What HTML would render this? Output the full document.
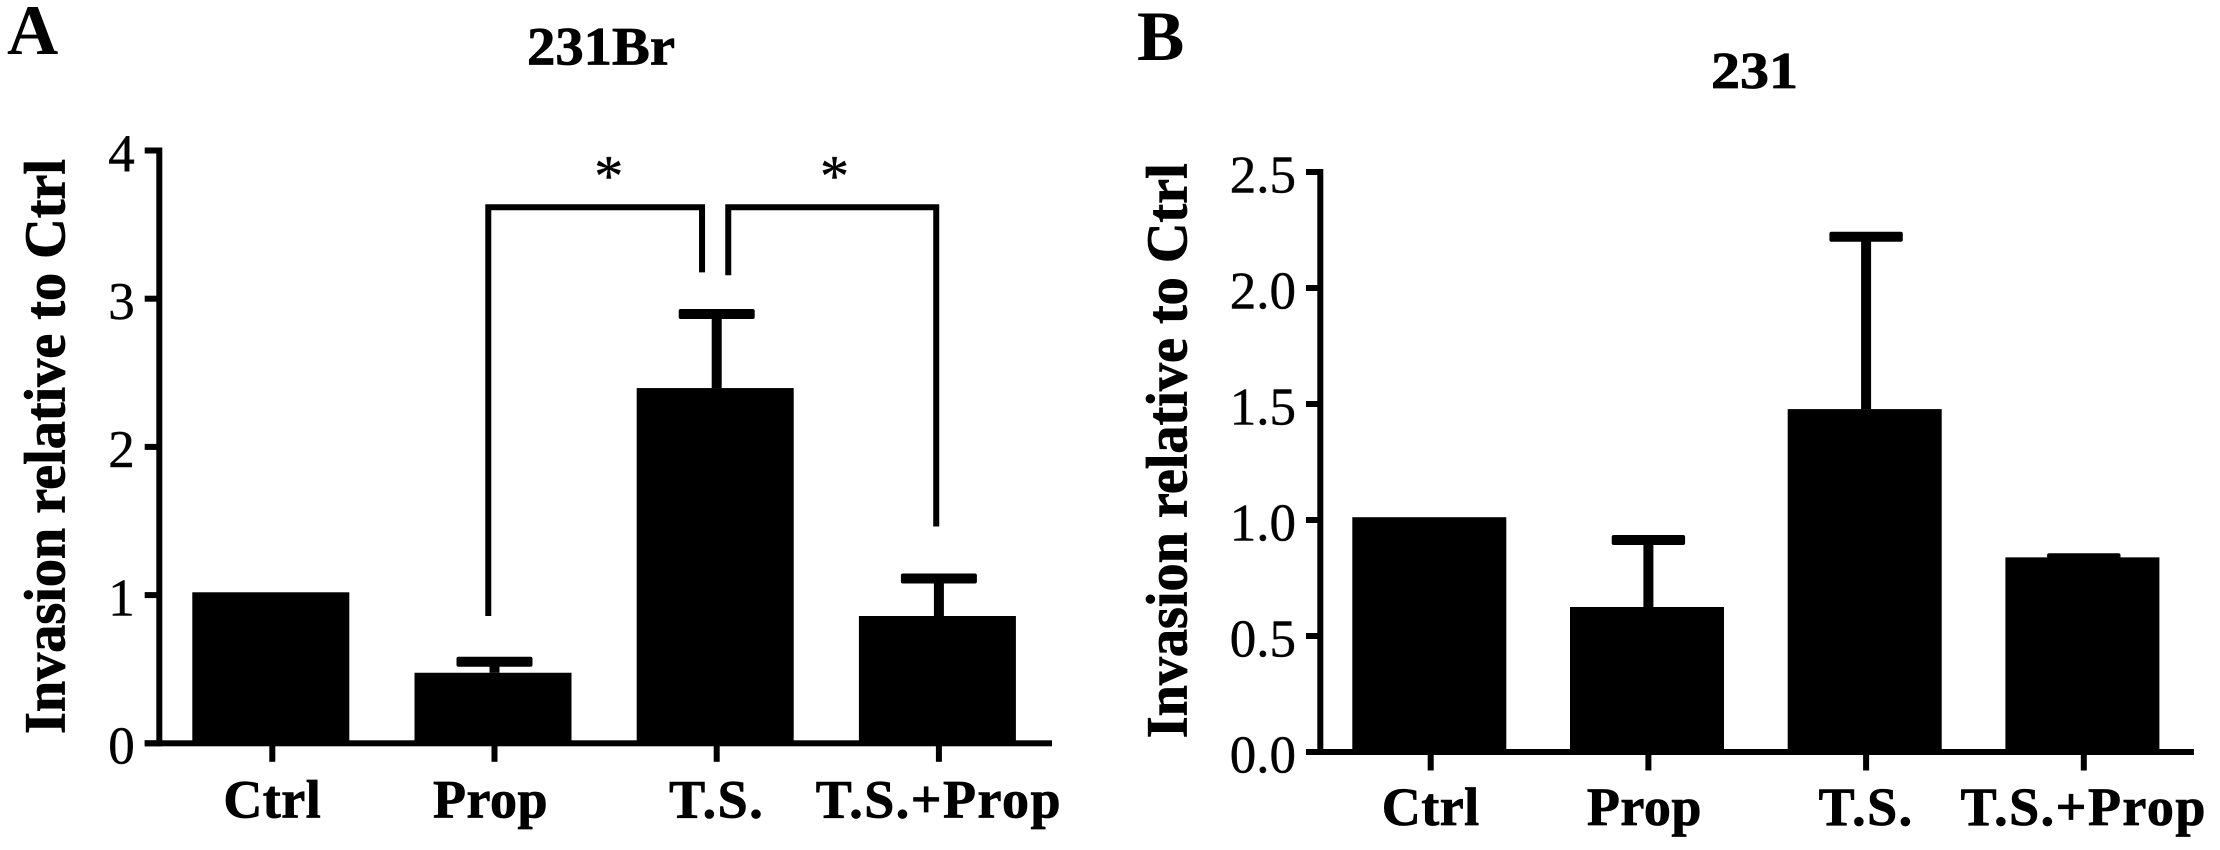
<!DOCTYPE html>
<html lang="en">
<head>
<meta charset="utf-8">
<title>Invasion relative to Ctrl: 231Br and 231</title>
<style>
  html, body { margin: 0; padding: 0; background: #ffffff; }
  body { width: 2220px; height: 850px; overflow: hidden; }
  svg { display: block; }
  text { font-family: "Liberation Serif", "Times New Roman", serif; fill: #000; }
  .heavy { stroke: #000; stroke-width: 0.8px; }
  .medium { stroke: #111; stroke-width: 0.5px; }
</style>
</head>
<body>
<svg id="figure" xmlns="http://www.w3.org/2000/svg" width="2220" height="850" viewBox="0 0 2220 850">
  <rect x="0" y="0" width="2220" height="850" fill="#ffffff"/>
  <text x="7" y="54" font-size="71" font-weight="700">A</text>
  <text x="1137" y="60" font-size="71" font-weight="700">B</text>
  <text class="heavy" x="527" y="64.5" font-size="54" font-weight="700" textLength="148" lengthAdjust="spacingAndGlyphs">231Br</text>
  <text class="heavy" x="1711" y="88" font-size="52" font-weight="700" textLength="87" lengthAdjust="spacingAndGlyphs">231</text>
  <text class="heavy" transform="translate(64.5 734) rotate(-90)" font-size="58" font-weight="700" textLength="575" lengthAdjust="spacingAndGlyphs">Invasion relative to Ctrl</text>
  <text class="heavy" transform="translate(1186.7 738.3) rotate(-90)" font-size="58" font-weight="700" textLength="575" lengthAdjust="spacingAndGlyphs">Invasion relative to Ctrl</text>
</svg>
<script>
// Chart data
const categories = ['Ctrl', 'Prop', 'T.S.', 'T.S.+Prop'];

const panelAValues = [1.019, 0.476, 2.397, 0.859];
const panelAErrorTops = [null, 0.55, 2.897, 1.112];
const panelATickLabels = ['0', '1', '2', '3', '4'];

const panelBValues = [1.012, 0.625, 1.478, 0.839];
const panelBErrorTops = [null, 0.914, 2.221, 0.835];
const panelBTickLabels = ['0.0', '0.5', '1.0', '1.5', '2.0', '2.5'];

// Significance brackets in panel A (category-axis and value-axis units)
const bracketFrom = [0.972, 2.052];
const bracketTo = [1.934, 2.988];
const bracketLevels = [3.617, 3.617];
const bracketFromEnds = [0.859, 3.158];
const bracketToEnds = [3.178, 1.463];
const starLabels = ['*', '*'];
const starCategories = [1.514, 2.53];
const starLevels = [3.695, 3.695];

const NS = 'http://www.w3.org/2000/svg';
const svg = document.getElementById('figure');

function make(tag, attrs, parent) {
  const node = document.createElementNS(NS, tag);
  for (const key in attrs) node.setAttribute(key, attrs[key]);
  parent.appendChild(node);
  return node;
}

function drawPanel(p) {
  const xScale = function (i) { return p.x0 + p.step * i; };
  const yScale = function (v) { return p.y0 - p.unit * v; };

  const group = make('g', {}, svg);
  
  

  p.values.forEach(function (value, i) {
    const cx = xScale(i);
    const top = yScale(value);
    const bar = make('rect', {
      x: cx - p.barLeft, y: top,
      width: p.barWidth, height: p.y0 - top, fill: '#000'
    }, group);
    
    

    const errorTop = p.errorTops[i];
    if (errorTop !== null) {
      const capY = yScale(errorTop);
      const stem = make('rect', {
        x: cx - 5, y: capY, width: 10, height: top - capY, fill: '#000'
      }, group);
      
      

      const cap = make('rect', {
        x: cx - p.capHalf, y: capY - 5,
        width: p.capHalf * 2, height: 10, rx: 2, fill: '#000'
      }, group);
      
      
    }

    const tick = make('rect', {
      x: cx - 3, y: p.y0, width: 6, height: 18.5, fill: '#000'
    }, group);
    
    

    const isProp = categories[i] === 'Prop';
    const isTreated = categories[i].charAt(0) === 'T';
    const label = make('text', {
      x: cx + (isProp ? -4 : 0), y: p.labelBaseline, 'text-anchor': 'middle',
      'font-size': 54, 'font-weight': 700, class: 'heavy',
      'letter-spacing': isTreated ? '1.5' : '0.5'
    }, group);
    label.textContent = categories[i];
    
    
  });

  const topValue = parseFloat(p.tickLabels[p.tickLabels.length - 1]);

  const yAxis = make('rect', {
    x: p.axisX - 3, y: yScale(topValue) - 3,
    width: 6, height: p.y0 - yScale(topValue) + 6, fill: '#000'
  }, group);
  
  

  const xAxis = make('rect', {
    x: p.tickLeft, y: p.y0 - 3,
    width: p.axisRight - p.tickLeft, height: 6, fill: '#000'
  }, group);
  
  

  p.tickLabels.forEach(function (text, i) {
    const y = yScale(parseFloat(text));
    const tick = make('rect', {
      x: p.tickLeft, y: y - 3, width: p.axisX - p.tickLeft, height: 6, fill: '#000'
    }, group);
    
    

    const label = make('text', {
      x: p.tickLeft - 10, y: y + 20.3, 'text-anchor': 'end',
      'font-size': 53, fill: '#111', class: 'medium'
    }, group);
    label.textContent = text;
    
    
  });

  return { xScale: xScale, yScale: yScale, group: group };
}

const panelA = drawPanel({
  id: 'a', values: panelAValues, errorTops: panelAErrorTops, tickLabels: panelATickLabels,
  x0: 272.3, step: 222.2, y0: 743.3, unit: 148.2,
  barLeft: 80, barWidth: 157, capHalf: 38,
  axisX: 159.3, tickLeft: 144.7, axisRight: 1052, labelBaseline: 817.5
});

drawPanel({
  id: 'b', values: panelBValues, errorTops: panelBErrorTops, tickLabels: panelBTickLabels,
  x0: 1430.7, step: 217.7, y0: 752, unit: 232,
  barLeft: 78.4, barWidth: 154, capHalf: 36.7,
  axisX: 1320.3, tickLeft: 1306, axisRight: 2194, labelBaseline: 825
});

bracketLevels.forEach(function (level, i) {
  const left = panelA.xScale(bracketFrom[i]);
  const right = panelA.xScale(bracketTo[i]);
  const bracket = make('path', {
    d: 'M' + left + ' ' + panelA.yScale(bracketFromEnds[i]) +
       ' V' + panelA.yScale(level) +
       ' H' + right +
       ' V' + panelA.yScale(bracketToEnds[i]),
    fill: 'none', stroke: '#000', 'stroke-width': 6, 'stroke-linejoin': 'miter'
  }, panelA.group);
  
  

  const star = make('text', {
    x: panelA.xScale(starCategories[i]), y: panelA.yScale(starLevels[i]),
    'text-anchor': 'middle', 'font-size': 58, fill: '#222', class: 'medium'
  }, panelA.group);
  star.textContent = starLabels[i];
  
  
});
</script>
</body>
</html>
